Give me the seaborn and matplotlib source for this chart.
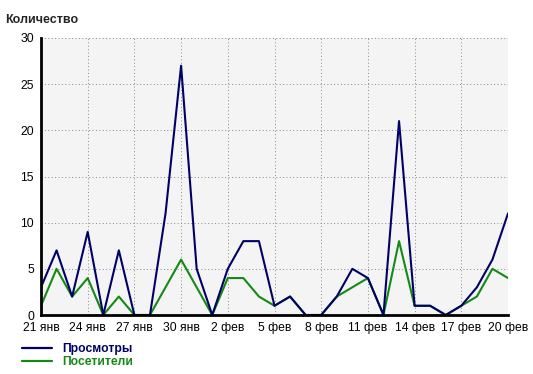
import matplotlib
matplotlib.use("Agg")
import matplotlib.pyplot as plt
import seaborn as sns
import pandas as pd
import numpy as np
from matplotlib.lines import Line2D

days = list(range(31))
views = [3, 7, 2, 9, 0, 7, 0, 0, 11, 27, 5, 0, 5, 8, 8, 1, 2, 0, 0, 2, 5, 4, 0, 21, 1, 1, 0, 1, 3, 6, 11]
visitors = [1, 5, 2, 4, 0, 2, 0, 0, 3, 6, 3, 0, 4, 4, 2, 1, 2, 0, 0, 2, 3, 4, 0, 8, 1, 1, 0, 1, 2, 5, 4]
tick_pos = [0, 3, 6, 9, 12, 15, 18, 21, 24, 27, 30]
tick_labels = ["21 янв", "24 янв", "27 янв", "30 янв", "2 фев", "5 фев",
               "8 фев", "11 фев", "14 фев", "17 фев", "20 фев"]
series_names = ["Просмотры", "Посетители"]
colors = ["#000066", "#138a13"]

sns.set_style("white")
plt.rcParams['font.family'] = ['Liberation Sans', 'DejaVu Sans']

df = pd.DataFrame({
    "day": days * 2,
    "value": views + visitors,
    "series": [series_names[0]] * len(days) + [series_names[1]] * len(days),
})

fig = plt.figure(figsize=(5.33, 3.74), dpi=100)
ax = fig.add_axes([41/533, 1 - 315/374, (508 - 41)/533, (315 - 38)/374])
ax.set_facecolor("#f4f4f4")

sns.lineplot(data=df, x="day", y="value", hue="series", hue_order=series_names[::-1],
             palette={series_names[0]: colors[0], series_names[1]: colors[1]},
             linewidth=1.5, ax=ax, legend=False)

ax.set_xlim(0, 30)
ax.set_ylim(0, 30)
ax.set_xticks(tick_pos)
ax.set_xticklabels(tick_labels)
ax.set_yticks([0, 5, 10, 15, 20, 25, 30])
ax.set_xlabel("")
ax.set_ylabel("")
ax.tick_params(axis="both", labelsize=8.7, length=3, width=1, direction="out", pad=2, colors="black")
ax.grid(True, color="#888888", linestyle=(0, (1, 2.5)), linewidth=0.7)
for s in ["top", "right"]:
    ax.spines[s].set_visible(False)
ax.spines["left"].set_linewidth(2)
ax.spines["bottom"].set_linewidth(2)
ax.spines["left"].set_color("black")
ax.spines["bottom"].set_color("black")

fig.text(5/533, 1 - 20/374, "Количество", fontsize=9, fontweight="bold", va="center", ha="left")

handles = [Line2D([0], [0], color=c, lw=1.6) for c in colors]
leg = fig.legend(handles, series_names, loc="upper left", bbox_to_anchor=(22/533, 1 - 343/374),
                 frameon=False, prop={"weight": "bold", "size": 8.7}, handlelength=2.5,
                 handletextpad=0.8, labelspacing=0.1, borderpad=0, borderaxespad=0)
for t, c in zip(leg.get_texts(), colors):
    t.set_color(c)

fig.savefig("out.png", dpi=100, facecolor="white")
